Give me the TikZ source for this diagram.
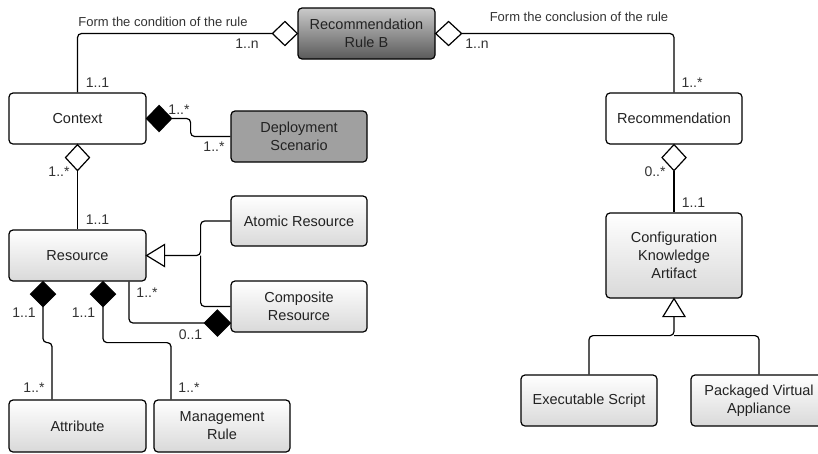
\documentclass[tikz,border=0pt]{standalone}
\usepackage{fontspec}
\setmainfont{Liberation Sans}
\usetikzlibrary{calc}
\definecolor{txt}{HTML}{222222}
\definecolor{lbl}{HTML}{333333}
\definecolor{depgray}{HTML}{A0A0A0}
\definecolor{rbtop}{HTML}{CACACA}
\definecolor{rbbot}{HTML}{5A5A5A}
\begin{document}
\begin{tikzpicture}[x=1pt,y=-1pt,
  box/.style={draw=black, line width=1.2pt, rounded corners=4pt, align=center, inner sep=0pt,
              font=\fontsize{14.5}{18}\selectfont, text=txt, minimum width=136pt, minimum height=51pt},
  grad/.style={box, top color=white, bottom color=black!15},
  plain/.style={box, fill=white},
  conn/.style={line width=1.2pt, rounded corners=4pt},
  shp/.style={line width=1.2pt, line join=miter},
  lab/.style={font=\fontsize{13}{15}\selectfont, text=lbl, inner sep=0pt},
  mult/.style={font=\fontsize{14}{16}\selectfont, text=lbl, inner sep=0pt}]
\useasboundingbox (0,0) rectangle (818,453);

% nodes
\node[box, top color=rbtop, bottom color=rbbot, minimum width=137pt] (rb) at (366.5,33.5) {Recommendation\\Rule B};
\node[plain, minimum width=137pt] (ctx) at (77.5,118.5) {Context};
\node[box, fill=depgray] (dep) at (299,136.5) {Deployment\\Scenario};
\node[plain] (rec) at (674,118.5) {Recommendation};
\node[grad, minimum width=137pt] (res) at (77.5,255.5) {Resource};
\node[grad, minimum height=50pt] (atom) at (299,221) {Atomic Resource};
\node[grad] (comp) at (299,306.5) {Composite\\Resource};
\node[grad, minimum width=137pt, minimum height=52pt] (attr) at (77.5,426) {Attribute};
\node[grad, minimum height=52pt] (mgmt) at (222,426) {Management\\Rule};
\node[grad, minimum height=85pt] (cka) at (674,255.5) {Configuration\\Knowledge\\Artifact};
\node[grad] (exe) at (589,400.5) {Executable Script};
\node[grad] (pva) at (759,400.5) {Packaged Virtual\\Appliance};

% Rule B -- Context (aggregation)
\draw[shp, fill=white] (rb.west) -- ++(-12.5,-12) -- ++(-12.5,12) coordinate (d1) -- ++(12.5,12) -- cycle;
\draw[conn] (d1) -| (ctx.north);
% Rule B -- Recommendation (aggregation)
\draw[shp, fill=white] (rb.east) -- ++(13,-12) -- ++(13,12) coordinate (d2) -- ++(-13,12) -- cycle;
\draw[conn] (d2) -| (rec.north);
% Context -- Deployment Scenario (composition)
\draw[shp, fill=black] (ctx.east) -- ++(12.5,-13) -- ++(12.5,13) coordinate (d3) -- ++(-12.5,13) -- cycle;
\draw[conn] (d3) -- ++(19,0) |- (dep.west);
% Context -- Resource (aggregation)
\draw[shp, fill=white] (ctx.south) -- ++(-12,13) -- ++(12,13) coordinate (d4) -- ++(12,-13) -- cycle;
\draw[conn] (d4) -- (res.north);
% Resource generalization
\draw[shp, fill=white] (res.east) -- ++(18,-11) -- ++(0,11) coordinate (t1) -- ++(0,11) -- cycle;
\draw[conn] (t1) -- ++(36,0) coordinate (j1) |- (atom.west);
\draw[conn] (j1) |- (comp.west);
% Resource -- Composite Resource (composition)
\coordinate (cw) at ($(comp.west)+(0,16.5)$);
\draw[shp, fill=black] (cw) -- ++(-13,-13) -- ++(-13,13) coordinate (d6) -- ++(13,13) -- cycle;
\draw[conn] ($(res.south)+(51.5,0)$) |- (d6);
% Resource -- Attribute (composition)
\draw[shp, fill=black] ($(res.south)+(-34.5,0)$) -- ++(-12.5,12.5) -- ++(12.5,12.5) coordinate (d7) -- ++(12.5,-12.5) -- cycle;
\draw[conn] (d7) -- ++(0,36) -| ($(attr.north)+(-25.5,0)$);
% Resource -- Management Rule (composition)
\draw[shp, fill=black] ($(res.south)+(25.5,0)$) -- ++(-12.5,12.5) -- ++(12.5,12.5) coordinate (d8) -- ++(12.5,-12.5) -- cycle;
\draw[conn] (d8) -- ++(0,36) -| ($(mgmt.north)+(-51,0)$);
% Recommendation -- CKA (aggregation)
\draw[shp, fill=white] (rec.south) -- ++(-12,13) -- ++(12,13) coordinate (d9) -- ++(12,-13) -- cycle;
\draw[conn] (d9) -- (cka.north);
% CKA generalization
\draw[shp, fill=white] (cka.south) -- ++(-11,18) -- ++(11,0) coordinate (t2) -- ++(11,0) -- cycle;
\draw[conn] (t2) -- ++(0,19) coordinate (j2) -| (exe.north);
\draw[conn] (j2) -| (pva.north);

% labels
\node[lab] (l1) at (163,22) {Form the condition of the rule};
\node[lab] (l2) at (579,17) {Form the conclusion of the rule};
\node[mult] (m1) at (247,44) {1..n};
\node[mult] (m2) at (97.5,83) {1..1};
\node[mult] (m3) at (477,44) {1..n};
\node[mult] (m4) at (692,83) {1..*};
\node[mult] (m5) at (179,110) {1..*};
\node[mult] (m6) at (214,147) {1..*};
\node[mult] (m7) at (59,172) {1..*};
\node[mult] (m8) at (97.5,220) {1..1};
\node[mult] (m9) at (147,293) {1..*};
\node[mult] (m10) at (190.5,335) {0..1};
\node[mult] (m11) at (24,313) {1..1};
\node[mult] (m12) at (34,388) {1..*};
\node[mult] (m13) at (83.5,313) {1..1};
\node[mult] (m14) at (189,388) {1..*};
\node[mult] (m15) at (655,172) {0..*};
\node[mult] (m16) at (693.5,203) {1..1};
\end{tikzpicture}
\end{document}
